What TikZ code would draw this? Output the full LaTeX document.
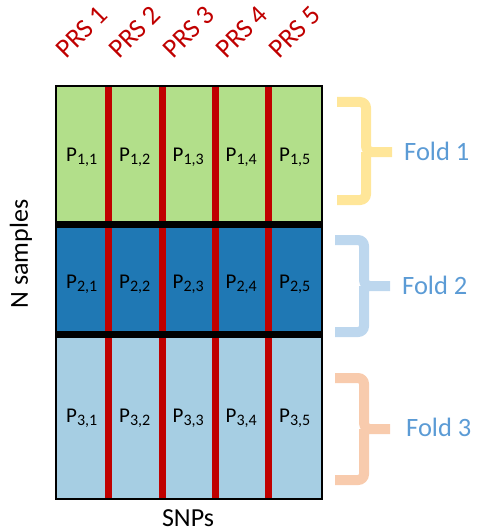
\documentclass[tikz,border=0pt]{standalone}
\usepackage{fontspec}
\setmainfont{Carlito}
\definecolor{cvgreen}{HTML}{B2DF8A}
\definecolor{cvblue}{HTML}{1F78B4}
\definecolor{cvlight}{HTML}{A6CEE3}
\definecolor{prsred}{HTML}{C00000}
\definecolor{foldtext}{HTML}{5B9BD5}
\definecolor{braceA}{HTML}{FFE699}
\definecolor{braceB}{HTML}{BDD7EE}
\definecolor{braceC}{HTML}{F8CBAD}
\begin{document}
\begin{tikzpicture}[x=1pt,y=-1pt,
  band/.style={draw=none,inner sep=0pt,outer sep=0pt,anchor=north west},
  cell/.style={font=\fontsize{21}{21}\selectfont,text=black,inner sep=0pt},
  prs/.style={font=\fontsize{27}{27}\selectfont,text=prsred,rotate=45,inner sep=0pt},
  sep/.style={line width=7pt,black},
  red col/.style={line width=7pt,prsred},
  fold/.style={font=\fontsize{26.5}{26.5}\selectfont,text=foldtext,anchor=west,inner sep=0pt},
  brace/.style={line width=10pt,rounded corners=6pt},
  axis label/.style={font=\fontsize{26}{26}\selectfont,inner sep=0pt}]
\useasboundingbox (0,0) rectangle (476,532);

% three bands of samples
\node[band,fill=cvgreen,minimum width=266pt,minimum height=138pt] (b1) at (56,86) {};
\node[band,fill=cvblue,minimum width=266pt,minimum height=110pt] (b2) at (56,224) {};
\node[band,fill=cvlight,minimum width=266pt,minimum height=165pt] (b3) at (56,334) {};

% column boundaries (PRS partitions)
\foreach \x [count=\i] in {108,162,215,268}
  \coordinate (c\i) at (\x,0);
\foreach \i in {1,...,4}
  \draw[red col] (b1.north west -| c\i) -- (b3.south west -| c\i);

% fold separators
\draw[sep] (b2.north west) -- (b2.north east);
\draw[sep] (b3.north west) -- (b3.north east);

% outer frame
\draw[line width=2pt] (b1.north west) rectangle (b3.south east);

% column centres
\foreach \x [count=\j] in {82,135,188.5,241.5,295}
  \coordinate (m\j) at (\x,0);

% cell labels
\foreach \r/\y in {1/157,2/284,3/418}
  \foreach \j in {1,...,5}
    \node[cell] (p\r\j) at (m\j |- 0,\y) {P\textsubscript{\fontsize{16}{16}\selectfont\r,\j}};

% PRS headers
\foreach \j in {1,...,5}
  \node[prs] (h\j) at ([xshift=0pt]m\j |- 0,32) {PRS \j};

% axis labels
\node[axis label,rotate=90] (ylab) at (21,254) {N samples};
\node[axis label] (xlab) at (188,518) {SNPs};

% fold braces
\draw[brace,braceA] (337,102) -- (366,102) -- (366,152) -- (392,152)
  (366,152) -- (366,200) -- (337,200);
\node[fold] (f1) at (404,151) {Fold 1};

\draw[brace,braceB] (335,240) -- (364,240) -- (364,286) -- (390,286)
  (364,286) -- (364,332) -- (335,332);
\node[fold] (f2) at (402,285) {Fold 2};

\draw[brace,braceC] (335,378) -- (364,378) -- (364,429) -- (390,429)
  (364,429) -- (364,480) -- (335,480);
\node[fold] (f3) at (406,427) {Fold 3};
\end{tikzpicture}
\end{document}
